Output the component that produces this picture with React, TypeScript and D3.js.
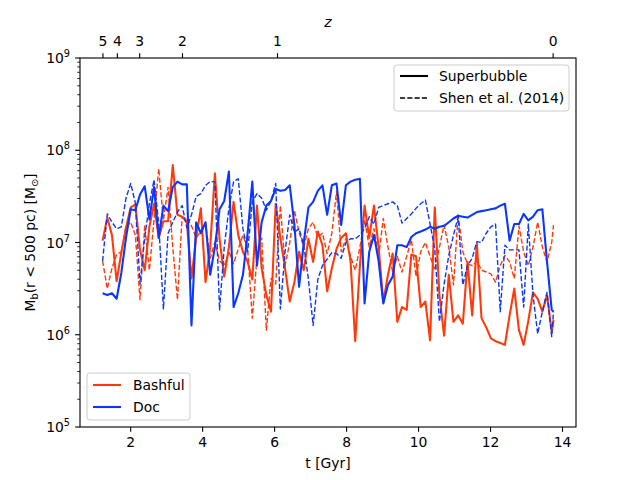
import React from "react";
import * as d3 from "d3";

// snapshot times [Gyr]
const times = [
  1.22, 1.35, 1.48, 1.61, 1.74, 1.87, 2.0, 2.13, 2.26, 2.39,
  2.52, 2.65, 2.78, 2.91, 3.04, 3.17, 3.3, 3.43, 3.56, 3.69,
  3.82, 3.95, 4.08, 4.21, 4.34, 4.47, 4.6, 4.73, 4.86, 4.99,
  5.12, 5.25, 5.38, 5.51, 5.64, 5.77, 5.9, 6.03, 6.16, 6.29,
  6.42, 6.55, 6.68, 6.81, 6.94, 7.07, 7.2, 7.33, 7.46, 7.59,
  7.72, 7.85, 7.98, 8.11, 8.24, 8.37, 8.5, 8.63, 8.76, 8.89,
  9.02, 9.15, 9.28, 9.41, 9.54, 9.67, 9.8, 9.93, 10.06, 10.19,
  10.32, 10.45, 10.58, 10.71, 10.84, 10.97, 11.1, 11.23, 11.36, 11.49,
  11.62, 11.75, 11.88, 12.01, 12.14, 12.27, 12.4, 12.53, 12.66, 12.79,
  12.92, 13.05, 13.18, 13.31, 13.44, 13.57, 13.7, 13.75,
];

// log10 of M_b(r < 500 pc) in solar masses
const bashfulSuperbubbleLog = [
  7.02, 7.27, 7.08, 6.58, 6.89, 7.16, 7.38, 7.41, 6.92, 6.7,
  7.17, 7.42, 7.05, 7.23, 7.23, 7.84, 7.3, 7.28, 7.22, 6.61,
  7.05, 7.37, 6.57, 6.95, 7.75, 7.04, 6.63, 6.95, 7.44, 7.08,
  6.9, 6.79, 6.6, 7.4, 6.72, 6.43, 6.25, 7.42, 7.05, 6.72,
  6.36, 6.57, 6.9, 6.7, 7.04, 6.79, 7.12, 6.97, 6.47, 6.72,
  6.93, 7.05, 7.1, 6.8, 5.93, 6.75, 7.4, 7.05, 7.4, 6.95,
  6.35, 6.65, 6.88, 6.14, 6.3, 6.27, 6.87, 6.85, 6.3, 6.36,
  5.94, 7.38, 6.43, 5.99, 6.65, 6.14, 6.21, 6.12, 6.79, 6.21,
  6.99, 6.18, 6.08, 5.96, 5.93, 5.91, 5.89, 6.21, 6.5, 6.05,
  5.89, 6.15, 6.46, 6.39, 6.25, 6.43, 6.03, 6.16,
];
const bashfulShenLog = [
  6.8, 6.5, 6.72, 6.87, 6.9, 7.17, 7.22, 7.08, 6.38, 7.18,
  6.7, 7.25, 7.8, 7.24, 7.6, 6.95, 6.38, 7.28, 7.25, 7.18,
  7.05, 7.12, 7.21, 6.83, 7.0, 6.8, 6.75, 6.9, 6.77, 6.93,
  7.08, 6.93, 6.18, 6.85, 7.05, 6.05, 6.61, 6.55, 7.4, 6.75,
  7.0, 7.35, 7.11, 6.95, 7.15, 7.22, 7.06, 7.1, 6.88, 7.1,
  7.55, 6.9, 7.04, 6.85, 6.7, 6.95, 7.25, 6.95, 7.15, 6.85,
  7.26, 6.95, 6.68, 6.85, 6.68, 6.85, 7.03, 6.63, 6.9, 7.0,
  6.85, 6.7, 6.95, 7.19, 6.95, 6.54, 7.3, 6.9, 6.77, 6.75,
  6.8, 6.7, 6.68, 6.66, 6.57, 6.75, 6.86, 6.79, 6.61, 7.18,
  6.9, 6.75, 6.95, 7.22, 6.95, 6.79, 7.0, 7.19,
];
const docSuperbubbleLog = [
  6.45, 6.43, 6.45, 6.39, 6.67, 7.05, 7.36, 7.35, 7.52, 7.61,
  7.25, 7.6, 7.05, 7.4, 7.34, 7.6, 7.66, 7.63, 7.63, 6.1,
  7.22, 7.1, 7.22, 6.65, 6.95, 7.36, 7.45, 7.77, 6.3, 6.45,
  6.65, 7.1, 7.66, 6.75, 7.22, 7.4, 7.45, 7.58, 7.56, 7.57,
  7.62, 7.19, 6.52, 7.0, 7.38, 7.44, 7.56, 7.62, 7.3, 7.62,
  7.64, 7.19, 7.62, 7.66, 7.68, 7.69, 6.34, 6.9, 7.08, 6.8,
  6.34, 6.54, 6.63, 6.97, 6.97, 6.95, 7.06, 7.1, 7.12, 7.14,
  7.17, 7.15, 7.17, 7.18, 7.22, 7.26, 7.29, 7.28, 7.27, 7.3,
  7.33, 7.34, 7.35, 7.36, 7.37, 7.4, 7.42, 7.02, 7.2, 7.2,
  7.31, 7.24, 7.28, 7.35, 7.36, 6.79, 6.27, 6.25,
];
const docShenLog = [
  6.8, 7.31, 7.22, 7.15, 7.17, 7.48, 7.64, 7.43, 6.55, 7.05,
  7.42, 7.68, 7.2, 6.28, 7.1, 7.22, 7.33, 7.4, 7.16, 7.3,
  7.5, 7.53, 7.62, 7.66, 7.66, 6.27, 6.95, 7.37, 7.66, 7.69,
  7.15, 6.9, 7.44, 7.53, 7.48, 7.35, 7.45, 7.64, 6.28, 6.9,
  7.3, 7.11, 7.15, 6.97, 6.6, 6.1, 6.6, 6.75, 6.82, 6.89,
  6.88, 6.83, 7.0, 7.04, 7.04, 7.08, 7.15, 7.28, 7.2, 7.38,
  7.4, 7.42, 7.44, 7.4, 7.21, 7.26, 7.31, 7.37, 7.42, 7.46,
  7.2, 6.93, 6.14, 6.55, 6.86, 7.08, 7.28, 6.54, 6.75, 6.83,
  7.01, 7.0, 7.1, 7.17, 7.2, 6.25, 6.97, 6.92, 6.92, 6.92,
  6.3, 7.2, 6.43, 6.01, 6.25, 6.46, 5.98, 6.25,
];

const xTicks = [2, 4, 6, 8, 10, 12, 14];
const redshiftTicks = ["5", "4", "3", "2", "1", "0"];
const redshiftTimes = [1.23, 1.63, 2.25, 3.44, 6.08, 13.74];

const RED = "#ff3a0a";
const BLUE = "#0a36ff";
const FONT = "DejaVu Sans";
const FS = 13.9;

const width = 640;
const height = 480;
const margin = { top: 58, right: 64, bottom: 53, left: 80 };

const App = () => {
  const left = margin.left;
  const right = width - margin.right;
  const top = margin.top;
  const bottom = height - margin.bottom;

  const x = d3.scaleLinear([0.592, 14.375], [left, right]);
  const y = d3.scaleLog([1e5, 1e9], [bottom, top]);
  const line = d3
    .line<number>()
    .x((d, i) => x(times[i]))
    .y((d) => y(10 ** d));

  const yAll = y.ticks();
  const yMajor = yAll.filter((v) => Math.abs(Math.log10(v) - Math.round(Math.log10(v))) < 1e-9);
  const yMinor = yAll.filter((v) => !yMajor.includes(v));

  const series = [
    { data: bashfulSuperbubbleLog, color: RED, dashed: false },
    { data: bashfulShenLog, color: RED, dashed: true },
    { data: docSuperbubbleLog, color: BLUE, dashed: false },
    { data: docShenLog, color: BLUE, dashed: true },
  ];

  return (
    <svg
      width={width}
      height={height}
      style={{ position: "absolute", left: 0, top: 0, background: "#fff" }}
      fontFamily={FONT}
      fontSize={FS}
    >
      <rect width={width} height={height} fill="#fff" />

      {series.map((s, i) => (
        <path
          key={i}
          d={line(s.data) ?? ""}
          fill="none"
          stroke={s.color}
          strokeWidth={s.dashed ? 1.39 : 2.08}
          strokeDasharray={s.dashed ? "5.1 2.2" : undefined}
          strokeLinejoin="round"
        />
      ))}

      {/* frame */}
      <rect
        x={left}
        y={top}
        width={right - left}
        height={bottom - top}
        fill="none"
        stroke="#000"
        strokeWidth={1.11}
      />

      {/* bottom axis */}
      {xTicks.map((t) => (
        <g key={t} transform={`translate(${x(t)},${bottom})`}>
          <line y2={4.86} stroke="#000" strokeWidth={1.11} />
          <text y={19.5} textAnchor="middle">
            {t}
          </text>
        </g>
      ))}
      <text x={(left + right) / 2} y={468} textAnchor="middle">
        t [Gyr]
      </text>

      {/* top redshift axis */}
      {redshiftTimes.map((t, i) => (
        <g key={i} transform={`translate(${x(t)},${top})`}>
          <line y2={-4.86} stroke="#000" strokeWidth={1.11} />
          <text y={-12} textAnchor="middle">
            {redshiftTicks[i]}
          </text>
        </g>
      ))}
      <text x={(left + right) / 2} y={27} textAnchor="middle" fontStyle="italic">
        z
      </text>

      {/* left axis */}
      {yMinor.map((v) => (
        <line key={v} x1={left} x2={left - 2.78} y1={y(v)} y2={y(v)} stroke="#000" strokeWidth={0.83} />
      ))}
      {yMajor.map((v) => (
        <g key={v} transform={`translate(${left},${y(v)})`}>
          <line x2={-4.86} stroke="#000" strokeWidth={1.11} />
          <text x={-10} y={5} textAnchor="end">
            10
            <tspan fontSize={FS * 0.7} dy={-6}>
              {Math.round(Math.log10(v))}
            </tspan>
          </text>
        </g>
      ))}
      <text transform={`translate(35,${(top + bottom) / 2}) rotate(-90)`} textAnchor="middle">
        M
        <tspan fontSize={FS * 0.7} dy={3}>b</tspan>
        <tspan dy={-3}>(r &lt; 500 pc) [M</tspan>
        <tspan fontSize={FS * 0.7} dy={3}>⊙</tspan>
        <tspan dy={-3}>]</tspan>
      </text>

      {/* legend: model */}
      <g transform="translate(394,65)">
        <rect width={175} height={46} rx={2.8} fill="#fff" fillOpacity={0.8} stroke="#ccc" strokeWidth={1} />
        <line x1={6} x2={34} y1={11} y2={11} stroke="#000" strokeWidth={2.08} />
        <text x={45} y={16}>Superbubble</text>
        <line x1={6} x2={34} y1={33} y2={33} stroke="#000" strokeWidth={1.39} strokeDasharray="5.1 2.2" />
        <text x={45} y={38}>Shen et al. (2014)</text>
      </g>

      {/* legend: galaxy */}
      <g transform="translate(87,373)">
        <rect width={103} height={47} rx={2.8} fill="#fff" fillOpacity={0.8} stroke="#ccc" strokeWidth={1} />
        <line x1={6} x2={34} y1={12} y2={12} stroke={RED} strokeWidth={2.08} />
        <text x={46} y={17}>Bashful</text>
        <line x1={6} x2={34} y1={34} y2={34} stroke={BLUE} strokeWidth={2.08} />
        <text x={46} y={39}>Doc</text>
      </g>
    </svg>
  );
};

export default App;
